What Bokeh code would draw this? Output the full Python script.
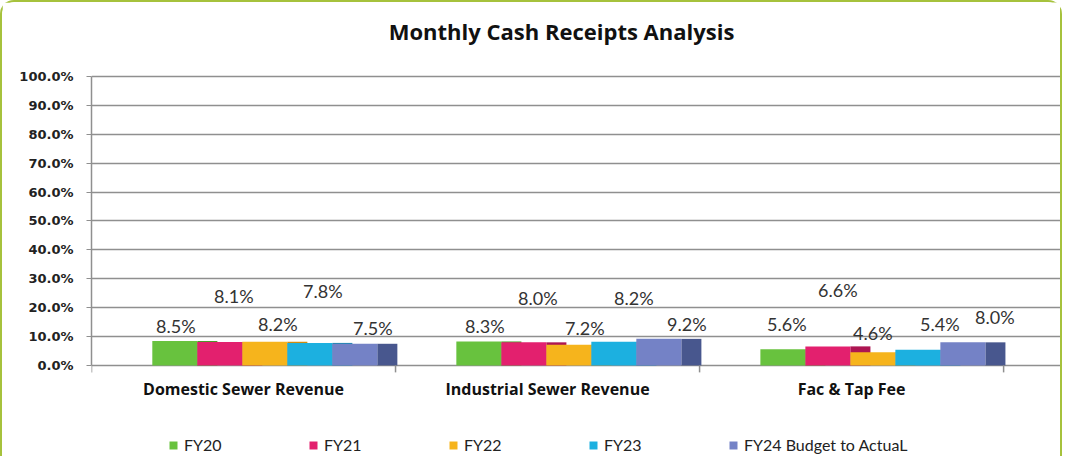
import numpy as np
from bokeh.plotting import figure
from bokeh.models import (ColumnDataSource, FixedTicker, PrintfTickFormatter,
                          Legend, LegendItem, Range1d)
from bokeh.core.properties import value
from bokeh.embed import file_html
from bokeh.resources import INLINE

# ---------------- data ----------------
categories = ["Domestic Sewer Revenue", "Industrial Sewer Revenue", "Fac & Tap Fee"]
series_names = ["FY20", "FY21", "FY22", "FY23", "FY24 Budget to ActuaL"]
fy20 = [8.5, 8.3, 5.6]
fy21 = [8.1, 8.0, 6.6]
fy22 = [8.2, 7.2, 4.6]
fy23 = [7.8, 8.2, 5.4]
fy24 = [7.5, 9.2, 8.0]
y_ticks = [0, 10, 20, 30, 40, 50, 60, 70, 80, 90, 100]
title_text = "Monthly Cash Receipts Analysis"

# ---------------- styles / layout ----------------
front_colors = ["#68c23e", "#e3206e", "#f6b41c", "#1cb0e0", "#7482c6"]
side_colors = ["#4c9a2a", "#ad1552", "#cf8c10", "#1486b0", "#48578e"]
front_w = 0.148   # width of a bar face in category units
side_w = 0.066    # visible 3D depth face
start = 0.2       # offset of first bar inside a category
x_end = 3.197
px_per_cat = 304.0
y_lo, y_hi = -32.2, 125.6
# data-label placement (per category, per series) as in the original
label_heights = [[13.8, 24.2, 14.2, 25.6, 13.1],
                 [13.8, 23.5, 13.1, 23.5, 14.5],
                 [14.5, 26.0, 11.4, 14.5, 16.6]]
label_dx_px = [[1, 14, 13, 13, 18],
               [6, 14, 16, 20, 28],
               [4, 10, 0, 22, 32]]
title_pos = (1.546, 115.9)
cat_label_y = -8.0
tick_len = 2.4
grid_color = "#8f8f8f"

series_vals = [fy20, fy21, fy22, fy23, fy24]
n_cat = len(categories)

p = figure(width=1062, height=456, output_backend="svg", toolbar_location=None,
           x_range=Range1d(0, x_end), y_range=Range1d(y_lo, y_hi),
           x_axis_location=None,
           min_border_left=89, min_border_right=1, min_border_top=0,
           min_border_bottom=0, background_fill_color="white",
           border_fill_color="white", outline_line_color=None)
p.styles = {"border-top": "2px solid #a6c23c", "border-left": "2px solid #a6c23c",
            "border-right": "2px solid #a6c23c", "border-radius": "14px 14px 0 0"}

# grid
p.xgrid.visible = False
p.ygrid.ticker = FixedTicker(ticks=y_ticks)
p.ygrid.grid_line_color = grid_color
p.ygrid.grid_line_width = 1.5

# title
p.text(x=[title_pos[0]], y=[title_pos[1]], text=[title_text], text_align="center",
       text_baseline="middle", text_font=value("Open Sans"), text_font_style="bold",
       text_font_size="22px", text_color="#111111")

cat_idx = np.arange(n_cat)
legend_items = []
for j, (name, vals) in enumerate(zip(series_names, series_vals)):
    left = cat_idx + start + j * front_w
    src = ColumnDataSource(dict(
        left=left, right=left + front_w,
        sleft=left + front_w, sright=left + front_w + side_w,
        top=vals,
        lx=left + front_w / 2 + np.array([label_dx_px[i][j] for i in range(n_cat)]) / px_per_cat,
        ly=[label_heights[i][j] for i in range(n_cat)],
        txt=[f"{v:.1f}%" for v in vals],
    ))
    p.quad(left="sleft", right="sright", bottom=0, top="top", source=src,
           fill_color=side_colors[j], line_color=None)
    r = p.quad(left="left", right="right", bottom=0, top="top", source=src,
               fill_color=front_colors[j], line_color=None)
    legend_items.append(LegendItem(label=name, renderers=[r]))
    p.text(x="lx", y="ly", text="txt", source=src, text_align="center",
           text_baseline="middle", text_font=value("Lato"),
           text_font_size="18px", text_color="#333333")

# category axis (labels and boundary ticks)
p.text(x=cat_idx + 0.5, y=[cat_label_y] * n_cat, text=categories,
       text_align="center", text_baseline="middle", text_font=value("Open Sans"),
       text_font_style="bold", text_font_size="16px", text_color="#111111")
bounds = np.arange(n_cat + 1)
p.segment(x0=bounds, x1=bounds, y0=[0] * len(bounds), y1=[-tick_len] * len(bounds),
          line_color=grid_color, line_width=1.5)

# y axis
p.yaxis.bounds = (0, 100)
p.yaxis.ticker = FixedTicker(ticks=y_ticks)
p.yaxis.formatter = PrintfTickFormatter(format="%.1f%%")
p.yaxis.major_label_text_font = "DejaVu Sans"
p.yaxis.major_label_text_font_style = "bold"
p.yaxis.major_label_text_font_size = "13px"
p.yaxis.major_label_text_color = "#222222"
p.yaxis.axis_line_color = grid_color
p.yaxis.axis_line_width = 1.5
p.yaxis.major_tick_line_color = grid_color
p.yaxis.major_tick_out = 5
p.yaxis.major_tick_in = 0
p.yaxis.minor_tick_line_color = None
p.yaxis.major_label_standoff = 13

legend = Legend(items=legend_items, orientation="horizontal",
                location=(77, 4), padding=0, margin=0, spacing=0,
                glyph_width=10, glyph_height=10, label_standoff=6,
                label_width=124, label_text_font="Lato",
                label_text_font_size="16px", label_text_color="#222222",
                border_line_color=None, background_fill_alpha=0)
p.add_layout(legend, "center")

open("out.html", "w").write(file_html(p, INLINE))
